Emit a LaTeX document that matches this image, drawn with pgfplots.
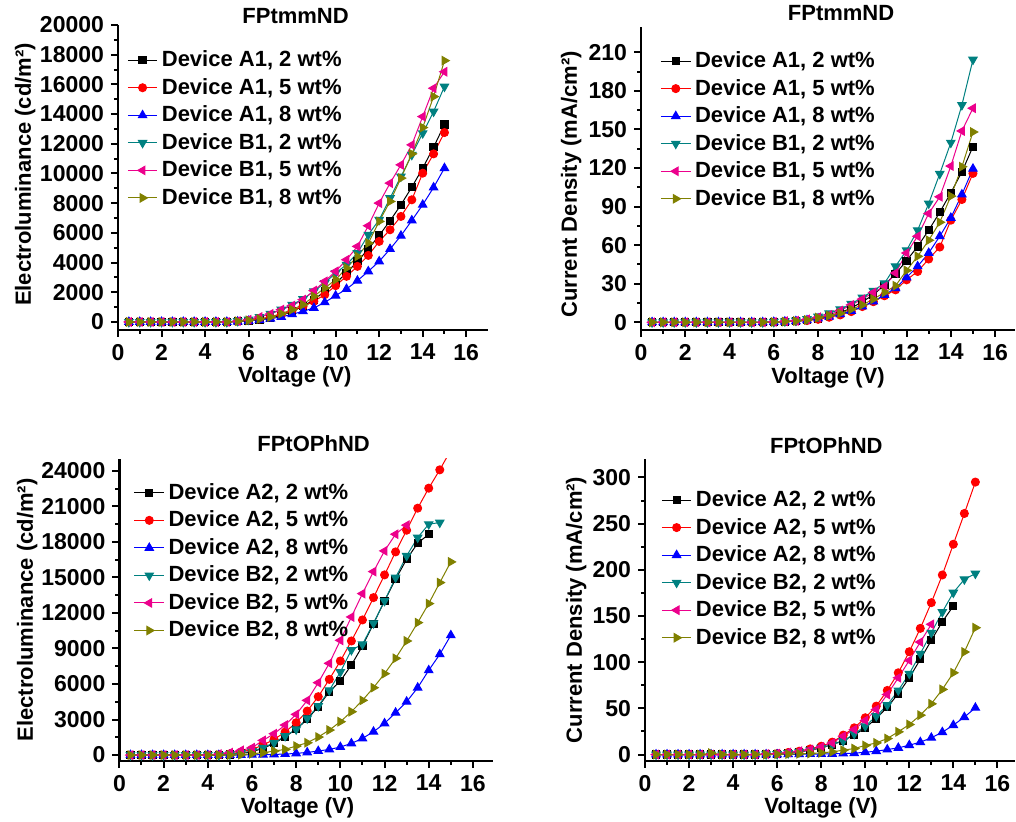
\documentclass[border=0pt]{standalone}
\usepackage{fontspec}
\setmainfont{Liberation Sans}
\usepackage{pgfplots}
\usepackage{pgfplotstable}
\pgfplotsset{compat=1.18}
\definecolor{oteal}{RGB}{0,128,128}
\definecolor{oolive}{RGB}{128,128,0}
\newcommand\ff{\bfseries\fontsize{11}{13}\selectfont}
\newcommand\tf{\bfseries\fontsize{11.5}{13.5}\selectfont}

% FPtmmND electroluminance
\pgfplotstableread{
x a2 a5 a8 b2 b5 b8
0.5 0 0 0 0 0 0
1 0 0 0 0 0 0
1.5 0 0 0 0 0 0
2 0 0 0 0 0 0
2.5 0 0 0 0 0 0
3 0 0 0 0 0 0
3.5 0 0 0 0 0 0
4 0 0 0 0 0 0
4.5 0 0 0 0 0 0
5 0 0 0 0 0 0
5.5 45 40 20 67 60 50
6 90 110 67 157 157 110
6.5 157 200 135 336 336 200
7 270 336 224 560 538 336
7.5 426 493 336 830 830 560
8 717 785 516 1166 1099 830
8.5 1054 1054 717 1547 1502 1166
9 1502 1390 942 2063 2107 1726
9.5 2063 1838 1323 2623 2735 2287
10 2623 2444 1771 3296 3408 2847
10.5 3296 3072 2220 3856 4193 3632
11 4080 3744 2780 4641 5089 4417
11.5 4910 4484 3408 5874 6479 5313
12 5829 5426 4080 6883 8004 6771
12.5 6816 6210 4910 8340 9349 8116
13 7892 7107 5807 9798 10582 9686
13.5 9080 8228 6838 11255 11927 11322
14 10358 10022 7892 12712 13833 13093
14.5 11770 11322 9058 14170 15740 15178
15 13300 12757 10358 15850 16850 17600
}\elone

% FPtmmND current density
\pgfplotstableread{
x a2 a5 a8 b2 b5 b8
0.5 0 0 0 0 0 0
1 0 0 0 0 0 0
1.5 0 0 0 0 0 0
2 0 0 0 0 0 0
2.5 0 0 0 0 0 0
3 0 0 0 0 0 0
3.5 0 0 0 0 0 0
4 0 0 0 0 0 0
4.5 0 0 0 0 0 0
5 0 0 0 0 0 0
5.5 0 0 0 0 0 0
6 0.2 0.2 0.2 0.3 0.3 0.2
6.5 0.5 0.5 0.5 0.8 0.8 0.5
7 1 0.8 0.8 1.3 1.2 1
7.5 2 1.3 1.5 2.6 2.3 1.8
8 3 2.3 2.9 4.4 3.9 3.6
8.5 5 3.9 4.4 7 5.7 5.2
9 7.5 5.7 6.2 10.1 9.1 7
9.5 11 8.3 8.8 14.3 13.5 10.1
10 16 12.2 12.2 19.3 18 13.5
10.5 21.3 16 16.1 24.5 23.2 18
11 29 20.6 21.3 30.4 27.8 23.2
11.5 37.7 25.2 26.5 43.5 38.3 28.4
12 47.9 33 34.9 56 53.9 40.3
12.5 59 39.5 43.5 71.6 66.9 51.3
13 71.6 49.2 53.9 92.4 84.6 63.8
13.5 85.6 58.5 66.9 115.5 97.6 77.8
14 100.7 79.4 81.2 139.7 121.5 98.1
14.5 117 95.5 99.4 169 148.8 121
15 136.6 115.8 119.4 204.3 166.5 148
}\jone

% FPtOPhND electroluminance
\pgfplotstableread{
x a2 a5 a8 b2 b5 b8
0.5 0 0 0 0 0 0
1 0 0 0 0 0 0
1.5 0 0 0 0 0 0
2 0 0 0 0 0 0
2.5 0 0 0 0 0 0
3 0 0 0 0 0 0
3.5 0 0 0 0 0 0
4 0 0 0 0 0 0
4.5 0 30 0 0 85 0
5 56 113 0 60 197 0
5.5 141 254 10 169 394 30
6 282 479 20 338 620 113
6.5 563 845 35 620 1240 197
7 986 1324 56 1042 1803 338
7.5 1549 1944 85 1606 2535 479
8 2169 2732 141 2169 3437 761
8.5 3014 3718 225 3099 4620 1042
9 4085 4930 338 4141 6113 1521
9.5 5352 6395 479 5465 7747 2113
10 6254 7944 676 7014 9690 2817
10.5 7606 9634 986 8873 11662 3662
11 9212 11409 1408 9352 13634 4620
11.5 11099 13296 1972 11127 15494 5690
12 13015 15212 2676 13015 17240 6873
12.5 14846 17155 3578 14986 18648 8169
13 16536 18986 4507 16818 19409 9634
13.5 17888 20846 5690 18367 nan 11183
14 18648 22536 7155 19494 nan 12789
14.5 nan 24085 8507 19634 nan 14564
15 nan 25750 10113 nan nan 16310
}\eltwo

% FPtOPhND current density
\pgfplotstableread{
x a2 a5 a8 b2 b5 b8
0.5 0 0 0 0 0 0
1 0 0 0 0 0 0
1.5 0 0 0 0 0 0
2 0 0 0 0 0 0
2.5 0 0 0 0 0 0
3 0 0 0 0 0 1.5
3.5 0 0 0 0 0 0
4 0 0 0 0 0 0
4.5 0 0 0 0 0 0
5 0 0 0 0 0 0
5.5 0.5 0.5 0 0.3 0.5 0
6 1 1 0 0.5 1 0.3
6.5 1.8 2.2 0.2 1.5 2.2 0.5
7 2.9 3.6 0.3 2.9 3.6 0.8
7.5 4.7 6.1 0.5 4.7 5.4 1.1
8 7.2 9 0.6 7.2 8.3 1.8
8.5 10.8 13.4 0.7 10.8 12.6 2.9
9 15.2 21 1.1 14.5 19.9 4.7
9.5 21 28.9 1.4 22.4 27.1 6.5
10 28.9 39.8 2.5 30.7 36.9 9.8
10.5 39 52.4 3.6 41.6 48.8 12.6
11 51.3 69.4 5.4 53.5 65 17.3
11.5 65.8 88.5 7.2 69.4 83.1 24.6
12 83.1 111.3 10.1 87.5 101.9 32.5
12.5 103 136.6 13.4 109.1 121.8 42.6
13 123.6 164.4 18.1 131.9 141 54.9
13.5 143.8 194.4 24.2 154.3 nan 70.5
14 160.8 227.7 31.8 175.3 nan 88.5
14.5 nan 261 40.5 189.7 nan 111
15 nan 295 50.6 195.9 nan 137.3
}\jtwo

\pgfplotsset{
  origin/.style={
    scale only axis, anchor=south west,
    axis lines=left, axis line style={-, line width=1.1pt},
    tick align=outside, major tick length=3.5pt, minor tick length=2pt,
    every tick/.style={line width=1pt, black},
    minor x tick num=1, minor y tick num=1,
    xmin=0, xtick={0,2,...,16},
    scaled y ticks=false,
    /pgf/number format/assume math mode=true,
    yticklabel style={/pgf/number format/1000 sep={}},
    tick label style={font=\tf},
    label style={font=\ff},
    title style={font=\ff, anchor=center},
    xlabel={Voltage (V)},
    legend cell align=left,
    legend style={draw=none, fill=none, font=\ff, anchor=north west, inner sep=0pt, row sep=0.3pt},
    legend image code/.code={\draw[mark repeat=2,mark phase=2] plot coordinates {(0cm,0cm) (0.26cm,0cm) (0.52cm,0cm)};},
  },
  sa/.style={black, line width=0.5pt, mark=square*, mark size=1.8pt},
  sb/.style={red, line width=0.5pt, mark=*, mark size=2pt},
  sc/.style={blue, line width=0.5pt, mark=triangle*, mark size=2.4pt},
  sd/.style={oteal, line width=0.5pt, mark=triangle*, mark size=2.4pt, mark options={rotate=180}},
  se/.style={magenta, line width=0.5pt, mark=triangle*, mark size=2.4pt, mark options={rotate=90}},
  sf/.style={oolive, line width=0.5pt, mark=triangle*, mark size=2.4pt, mark options={rotate=-90}},
}

\begin{document}
\begin{tikzpicture}
\path[use as bounding box] (0,0) rectangle (508pt,411pt);

\begin{axis}[origin, at={(59pt,246pt)}, width=185pt, height=152.5pt,
  xmax=17, ymin=-540, ymax=20000, ytick={0,2000,...,20000},
  ylabel={Electroluminance (cd/m²)},
  ylabel style={at={(axis description cs:-0.251,0.51)}, anchor=center},
  xlabel style={at={(axis description cs:0.478,-0.154)}, anchor=center},
  title={FPtmmND}, title style={at={(axis description cs:0.48,0.99)}},
  legend style={at={(axis description cs:0.024,0.93)}}]
\addplot[sa] table[y=a2]{\elone}; \addlegendentry{Device A1, 2 wt\%}
\addplot[sb] table[y=a5]{\elone}; \addlegendentry{Device A1, 5 wt\%}
\addplot[sc] table[y=a8]{\elone}; \addlegendentry{Device A1, 8 wt\%}
\addplot[sd] table[y=b2]{\elone}; \addlegendentry{Device B1, 2 wt\%}
\addplot[se] table[y=b5]{\elone}; \addlegendentry{Device B1, 5 wt\%}
\addplot[sf] table[y=b8]{\elone}; \addlegendentry{Device B1, 8 wt\%}
\end{axis}

\begin{axis}[origin, at={(320.5pt,246pt)}, width=187pt, height=151.7pt,
  xmax=16.9, ymin=-6, ymax=230, ytick={0,30,...,210},
  ylabel={Current Density (mA/cm²)},
  ylabel style={at={(axis description cs:-0.187,0.48)}, anchor=center},
  xlabel style={at={(axis description cs:0.5,-0.158)}, anchor=center},
  title={FPtmmND}, title style={at={(axis description cs:0.535,1.005)}},
  legend style={at={(axis description cs:0.051,0.932)}}]
\addplot[sa] table[y=a2]{\jone}; \addlegendentry{Device A1, 2 wt\%}
\addplot[sb] table[y=a5]{\jone}; \addlegendentry{Device A1, 5 wt\%}
\addplot[sc] table[y=a8]{\jone}; \addlegendentry{Device A1, 8 wt\%}
\addplot[sd] table[y=b2]{\jone}; \addlegendentry{Device B1, 2 wt\%}
\addplot[se] table[y=b5]{\jone}; \addlegendentry{Device B1, 5 wt\%}
\addplot[sf] table[y=b8]{\jone}; \addlegendentry{Device B1, 8 wt\%}
\end{axis}

\begin{axis}[origin, at={(59.7pt,30.5pt)}, width=186.7pt, height=151pt,
  xmax=16.9, ymin=-500, ymax=25000, ytick={0,3000,...,24000},
  ylabel={Electroluminance (cd/m²)},
  ylabel style={at={(axis description cs:-0.247,0.5)}, anchor=center},
  xlabel style={at={(axis description cs:0.477,-0.156)}, anchor=center},
  title={FPtOPhND}, title style={at={(axis description cs:0.52,1.01)}},
  legend style={at={(axis description cs:0.038,0.934)}}]
\addplot[sa] table[y=a2]{\eltwo}; \addlegendentry{Device A2, 2 wt\%}
\addplot[sb] table[y=a5]{\eltwo}; \addlegendentry{Device A2, 5 wt\%}
\addplot[sc] table[y=a8]{\eltwo}; \addlegendentry{Device A2, 8 wt\%}
\addplot[sd] table[y=b2]{\eltwo}; \addlegendentry{Device B2, 2 wt\%}
\addplot[se] table[y=b5]{\eltwo}; \addlegendentry{Device B2, 5 wt\%}
\addplot[sf] table[y=b8]{\eltwo}; \addlegendentry{Device B2, 8 wt\%}
\end{axis}

\begin{axis}[origin, at={(322.5pt,30.5pt)}, width=185pt, height=151pt,
  xmax=16.8, ymin=-7, ymax=320, ytick={0,50,...,300},
  ylabel={Current Density (mA/cm²)},
  ylabel style={at={(axis description cs:-0.186,0.5)}, anchor=center},
  xlabel style={at={(axis description cs:0.476,-0.156)}, anchor=center},
  title={FPtOPhND}, title style={at={(axis description cs:0.49,1.003)}},
  legend style={at={(axis description cs:0.043,0.91)}}]
\addplot[sa] table[y=a2]{\jtwo}; \addlegendentry{Device A2, 2 wt\%}
\addplot[sb] table[y=a5]{\jtwo}; \addlegendentry{Device A2, 5 wt\%}
\addplot[sc] table[y=a8]{\jtwo}; \addlegendentry{Device A2, 8 wt\%}
\addplot[sd] table[y=b2]{\jtwo}; \addlegendentry{Device B2, 2 wt\%}
\addplot[se] table[y=b5]{\jtwo}; \addlegendentry{Device B2, 5 wt\%}
\addplot[sf] table[y=b8]{\jtwo}; \addlegendentry{Device B2, 8 wt\%}
\end{axis}
\end{tikzpicture}
\end{document}
